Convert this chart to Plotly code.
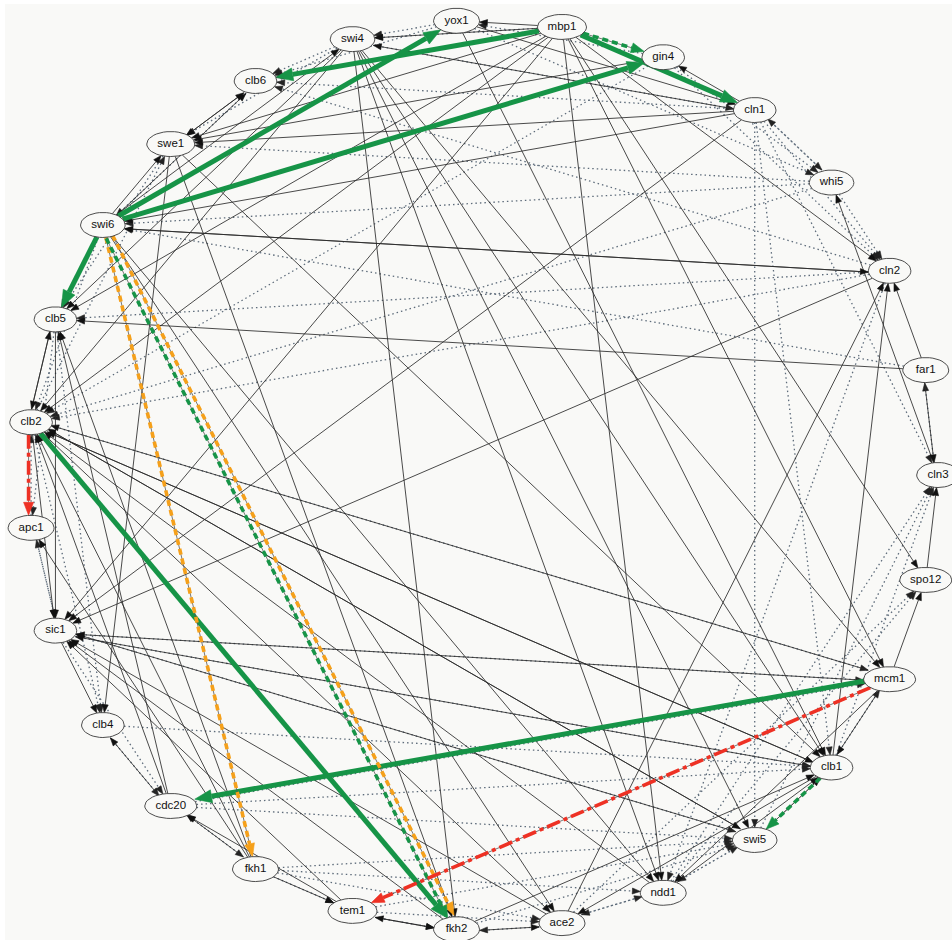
import math
import plotly.graph_objects as go

# Genes placed clockwise on a circle, starting at the 3 o'clock position
nodes = ["cln3", "spo12", "mcm1", "clb1", "swi5", "ndd1", "ace2", "fkh2", "tem1",
         "fkh1", "cdc20", "clb4", "sic1", "apc1", "clb2", "clb5", "swi6", "swe1",
         "clb6", "swi4", "yox1", "mbp1", "gin4", "cln1", "whi5", "cln2", "far1"]

# Regulatory links (source, target)
solid_edges = [
    ("mbp1", "yox1"), ("mbp1", "swi4"), ("mbp1", "swe1"), ("mbp1", "ndd1"), ("mbp1", "spo12"),
    ("mbp1", "mcm1"), ("mbp1", "cln2"), ("mbp1", "clb5"), ("mbp1", "sic1"), ("mbp1", "clb2"),
    ("swi4", "ndd1"), ("swi4", "mcm1"), ("swi4", "clb1"), ("swi4", "clb5"), ("swi4", "clb2"),
    ("swi4", "fkh2"), ("swi4", "swi5"), ("yox1", "clb1"), ("yox1", "cln1"),
    ("swi6", "swe1"), ("swi6", "clb6"), ("swi6", "swi4"), ("swi6", "cln2"), ("swi6", "ndd1"),
    ("swi6", "ace2"), ("swe1", "clb6"), ("clb6", "swe1"), ("swe1", "clb4"), ("swe1", "clb1"),
    ("swe1", "fkh2"), ("cln1", "swe1"), ("cln1", "swi6"), ("cln1", "sic1"), ("cln1", "gin4"),
    ("cln1", "swi4"), ("gin4", "swe1"), ("cln2", "swi6"), ("cln2", "sic1"), ("far1", "clb5"),
    ("far1", "cln2"), ("far1", "cln3"), ("ace2", "cln2"), ("clb1", "cln2"), ("cln3", "whi5"),
    ("spo12", "cln3"), ("mcm1", "spo12"), ("mcm1", "clb1"), ("clb5", "clb2"), ("clb2", "clb5"),
    ("clb5", "sic1"), ("clb2", "sic1"), ("sic1", "clb4"), ("fkh1", "apc1"), ("fkh1", "clb2"),
    ("ndd1", "clb2"), ("mcm1", "clb2"), ("clb1", "clb2"), ("clb2", "clb1"), ("swi5", "clb2"),
    ("cdc20", "clb2"), ("cdc20", "clb5"), ("cdc20", "clb4"), ("fkh1", "cdc20"), ("tem1", "cdc20"),
    ("fkh1", "clb5"), ("tem1", "sic1"), ("fkh2", "sic1"), ("ace2", "sic1"), ("swi5", "sic1"),
    ("clb1", "sic1"), ("mcm1", "sic1"), ("fkh2", "tem1"), ("tem1", "fkh2"), ("fkh1", "tem1"),
    ("fkh2", "ace2"), ("clb1", "ace2"), ("clb2", "ace2"), ("mcm1", "ndd1"), ("ndd1", "clb1"),
    ("swi5", "clb1"), ("fkh2", "clb1"), ("clb2", "swi5"),
]

dotted_edges = [
    ("yox1", "swi4"), ("mbp1", "swi4"), ("whi5", "cln1"), ("cln1", "whi5"), ("cln1", "clb1"),
    ("cln1", "cln2"), ("cln1", "cln3"), ("gin4", "cln2"), ("gin4", "whi5"), ("swi6", "clb5"),
    ("clb6", "swi6"), ("cln1", "clb6"), ("whi5", "swi6"), ("cln2", "clb5"), ("whi5", "clb2"),
    ("cln2", "clb2"), ("gin4", "clb2"), ("swi4", "clb6"), ("yox1", "clb6"), ("swi4", "swe1"),
    ("clb5", "apc1"), ("apc1", "sic1"), ("clb2", "clb4"), ("clb5", "clb4"), ("sic1", "cdc20"),
    ("cdc20", "fkh1"), ("fkh1", "tem1"), ("tem1", "fkh2"), ("ace2", "fkh2"), ("ndd1", "ace2"),
    ("ace2", "ndd1"), ("ndd1", "swi5"), ("swi5", "ndd1"), ("clb1", "mcm1"), ("ndd1", "cln3"),
    ("cln3", "far1"), ("clb2", "mcm1"), ("sic1", "swi5"), ("sic1", "clb1"), ("cdc20", "clb1"),
    ("fkh1", "ndd1"), ("tem1", "swi5"), ("tem1", "ace2"), ("cdc20", "mcm1"), ("ace2", "spo12"),
    ("swi5", "cln3"), ("ndd1", "spo12"), ("clb1", "cln3"), ("clb2", "swe1"), ("cln2", "clb6"),
    ("whi5", "swe1"), ("far1", "swi6"), ("gin4", "yox1"), ("cln1", "swi5"), ("whi5", "cln2"),
    ("cln2", "ndd1"), ("apc1", "clb2"), ("sic1", "apc1"), ("clb4", "cdc20"), ("fkh1", "swi5"),
    ("cdc20", "swi5"), ("fkh2", "swi5"), ("sic1", "mcm1"), ("clb4", "clb1"), ("fkh1", "ace2"),
    ("swe1", "clb5"), ("swi6", "clb2"), ("mbp1", "clb6"), ("yox1", "whi5"), ("swi4", "cln1"),
]

green_edges = [("mbp1", "clb6"), ("mbp1", "cln1"), ("swi6", "gin4"), ("swi6", "yox1"),
               ("swi6", "clb5"), ("clb2", "fkh2"), ("mcm1", "cdc20")]
green_dashed_edges = [("mbp1", "gin4"), ("swi6", "fkh2"), ("clb1", "swi5")]
orange_dashed_edges = [("swi6", "fkh2"), ("swi6", "fkh1")]
red_dashdot_edges = [("clb2", "apc1"), ("mcm1", "tem1")]

PX = 455.0  # screen pixels per layout unit
BG = "#f9f9f7"

pos = {}
for i, name in enumerate(nodes):
    th = math.radians(90 + i * 360.0 / len(nodes))
    pos[name] = (math.sin(th), math.cos(th))

char_w = {"m": 9.0, "w": 8.0, "i": 2.6, "l": 2.6}


def semi_axes(name):
    w = 22 + sum(char_w.get(c, 6.0) for c in name)
    return w / 2 / PX, 12.5 / PX


def boundary(name, ux, uy):
    a, b = semi_axes(name)
    return 1.0 / math.sqrt((ux / a) ** 2 + (uy / b) ** 2)


edge_set = set(solid_edges) | set(dotted_edges)


def geometry(s, d, offset_px=0.0):
    (x0, y0), (x1, y1) = pos[s], pos[d]
    L = math.hypot(x1 - x0, y1 - y0)
    ux, uy = (x1 - x0) / L, (y1 - y0) / L
    nx, ny = -uy, ux
    off = offset_px / PX
    ts, td = boundary(s, ux, uy), boundary(d, ux, uy)
    start = (x0 + ts * ux + nx * off, y0 + ts * uy + ny * off)
    end = (x1 - td * ux + nx * off, y1 - td * uy + ny * off)
    return start, end, (ux, uy), (nx, ny)


def add_edges(fig, edges, color, width, dash, head_len, head_w, head_color,
              offsets=None, under=None):
    xs, ys, hx, hy = [], [], [], []
    for k, (s, d) in enumerate(edges):
        off = 0.0
        if offsets is not None:
            off = offsets[k]
        elif (d, s) in edge_set:
            off = 2.5 if s < d else -2.5
        start, end, (ux, uy), (nx, ny) = geometry(s, d, off)
        hl, hw = head_len / PX, head_w / PX
        base = (end[0] - hl * ux, end[1] - hl * uy)
        xs += [start[0], base[0], None]
        ys += [start[1], base[1], None]
        hx += [end[0], base[0] + nx * hw / 2, base[0] - nx * hw / 2, end[0], None]
        hy += [end[1], base[1] + ny * hw / 2, base[1] - ny * hw / 2, end[1], None]
    if under:
        fig.add_trace(go.Scatter(x=xs, y=ys, mode="lines", hoverinfo="skip",
                                 line=dict(color=under, width=0.8)))
    fig.add_trace(go.Scatter(x=xs, y=ys, mode="lines", hoverinfo="skip",
                             line=dict(color=color, width=width, dash=dash)))
    fig.add_trace(go.Scatter(x=hx, y=hy, mode="lines", fill="toself", hoverinfo="skip",
                             fillcolor=head_color, line=dict(color=head_color, width=0.6)))


fig = go.Figure()

add_edges(fig, dotted_edges, "#5d6b7a", 1.3, "1.5px,3px", 8, 6, "#222222")
add_edges(fig, solid_edges, "#2a2a2a", 0.85, "solid", 8, 6, "#111111")
add_edges(fig, green_edges, "#169447", 5.0, "solid", 17, 13, "#169447")
add_edges(fig, orange_dashed_edges, "#f5a01a", 3.6, "6px,4px", 13, 10, "#f5a01a",
          offsets=[4.0, 0.0], under="#555555")
add_edges(fig, green_dashed_edges, "#169447", 3.6, "6px,4px", 13, 10, "#169447",
          offsets=[0.0, -3.0, 0.0], under="#555555")
add_edges(fig, red_dashdot_edges, "#ee3124", 3.6, "14px,4px,4px,4px", 13, 10, "#ee3124",
          under="#555555")

# node ellipses
ex, ey = [], []
for name in nodes:
    a, b = semi_axes(name)
    cx, cy = pos[name]
    for k in range(41):
        t = 2 * math.pi * k / 40
        ex.append(cx + a * math.cos(t))
        ey.append(cy + b * math.sin(t))
    ex.append(None)
    ey.append(None)
fig.add_trace(go.Scatter(x=ex, y=ey, mode="lines", fill="toself", fillcolor=BG,
                         line=dict(color="#3a3a3a", width=0.9), hoverinfo="skip"))

fig.add_trace(go.Scatter(
    x=[pos[n][0] for n in nodes], y=[pos[n][1] for n in nodes], mode="text",
    text=nodes, textfont=dict(family="Liberation Sans, Arial", size=11.5, color="#111111"),
    hoverinfo="skip"))

fig.update_layout(
    width=952, height=940, showlegend=False,
    margin=dict(l=5, r=0, t=4, b=0),
    paper_bgcolor="white", plot_bgcolor=BG,
    xaxis=dict(range=[-(483 - 5) / PX, (952 - 483) / PX], visible=False, fixedrange=True),
    yaxis=dict(range=[-(940 - 475) / PX, (475 - 4) / PX], visible=False, fixedrange=True),
)

fig.write_html("out.html")
